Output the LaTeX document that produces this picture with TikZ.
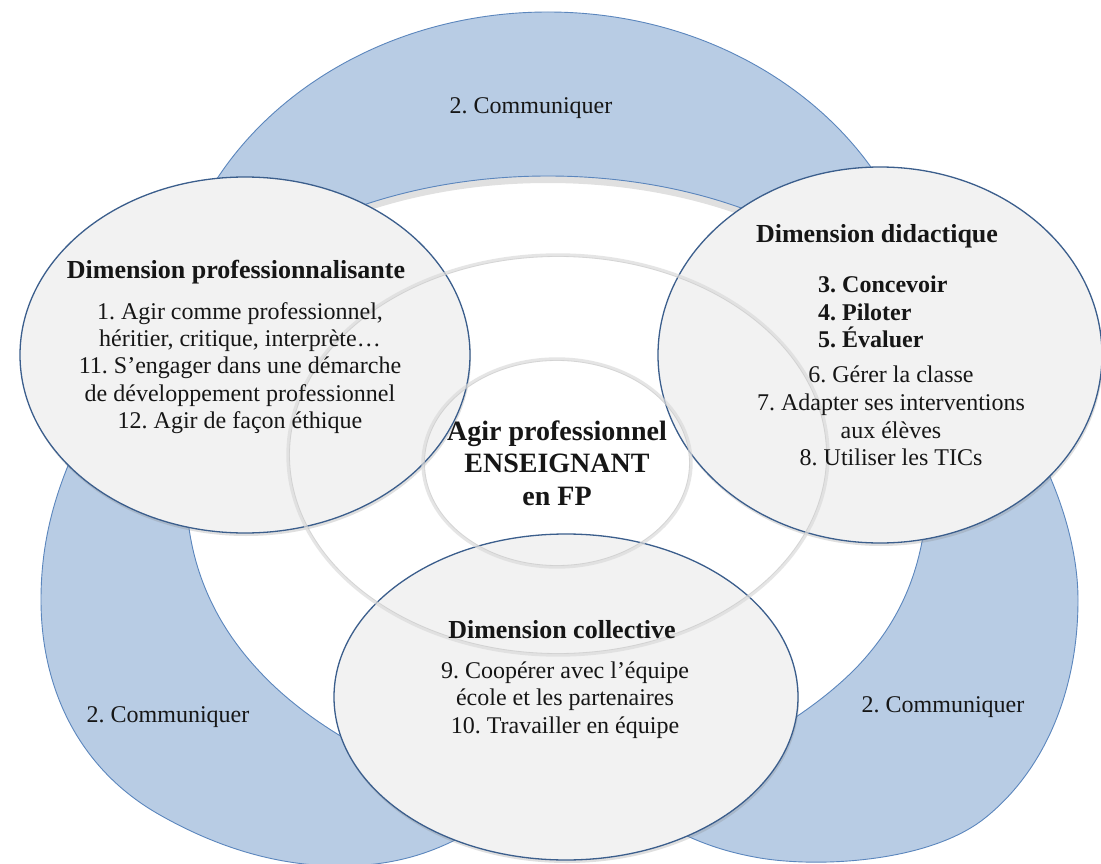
\documentclass[tikz,border=0pt]{standalone}
\usepackage{fontspec}
\setmainfont{Liberation Serif}
\frenchspacing
\usetikzlibrary{shapes.geometric,shadows}
\definecolor{ringblue}{HTML}{B8CCE4}
\definecolor{ringedge}{HTML}{5B86BD}
\definecolor{ellfill}{HTML}{F2F2F2}
\definecolor{elledge}{HTML}{3B5E8C}
\definecolor{txt}{HTML}{161616}
\begin{document}
\begin{tikzpicture}[x=1pt,y=-1pt,
  comm/.style={font=\fontsize{24}{27}\selectfont, text=txt},
  head/.style={font=\fontsize{26}{29}\selectfont\bfseries, text=txt},
  body/.style={font=\fontsize{24}{27.3}\selectfont, text=txt, align=center, inner sep=0pt},
  dimell/.style={ellipse, draw=elledge, line width=1.3pt, fill=ellfill, inner sep=0pt,
    drop shadow={opacity=0.25, shadow xshift=1pt, shadow yshift=-3pt}},
  faint/.style={draw=black!14, line width=3.4pt, opacity=0.7},
  faintcore/.style={draw=black!24, line width=0.8pt, opacity=0.5},
  ringline/.style={draw=ringedge, line width=0.9pt},
  lobe/.style={fill=ringblue, draw=ringedge, line width=0.9pt, line join=round},
]
\useasboundingbox (0,0) rectangle (1101,864);
\fill[white] (0,0) rectangle (1101,864);
% top block arc of the blue ring
\begin{scope}
  \clip (0,0) rectangle (1101,300);
  \fill[ringblue, even odd rule] (548,340) ellipse [x radius=380, y radius=328]
                                 (548,420) ellipse [x radius=390, y radius=244];
  \begin{scope}
    \clip (548,420) ellipse [x radius=390, y radius=244];
    \draw[black, opacity=0.12, line width=8pt, yshift=-3pt] (548,420) ellipse [x radius=390, y radius=244];
  \end{scope}
  \draw[ringline] (548,340) ellipse [x radius=380, y radius=328];
  \draw[ringline] (548,420) ellipse [x radius=390, y radius=244];
\end{scope}
% right lower block arc
\path[lobe] (1000,390) .. controls (1045,450) and (1078,530) .. (1078,600)
  .. controls (1078,690) and (1045,770) .. (985,818)
  .. controls (930,862) and (820,868) .. (760,858)
  .. controls (725,852) and (695,842) .. (660,822)
  -- (700,765) .. controls (760,745) and (820,705) .. (857,667)
  .. controls (890,632) and (915,590) .. (924,530)
  -- (925,470) -- cycle;
% left lower block arc
\path[lobe] (100,400) .. controls (55,480) and (41,540) .. (41,600)
  .. controls (41,690) and (80,770) .. (160,815)
  .. controls (220,849) and (280,866) .. (340,866)
  .. controls (390,866) and (430,855) .. (470,832)
  -- (420,775) .. controls (360,752) and (300,715) .. (260,672)
  .. controls (225,635) and (195,585) .. (188,520)
  -- (188,470) -- cycle;
% three dimension ellipses
\node[dimell, minimum width=450pt, minimum height=356pt] (pro) at (245,355) {};
\node[dimell, minimum width=444pt, minimum height=376pt] (did) at (880,355) {};
\node[dimell, minimum width=464pt, minimum height=326pt] (col) at (566,697) {};
% faint concentric rings
\draw[faint] (558,455) ellipse [x radius=270, y radius=200];
\draw[faintcore] (558,455) ellipse [x radius=268.5, y radius=198.5];
\draw[faint] (557,463) ellipse [x radius=134, y radius=104];
\draw[faintcore] (557,463) ellipse [x radius=132.5, y radius=102.5];
% texts
\node[comm] (c1) at (531,108) {2. Communiquer};
\node[comm] (c2) at (168,717) {2. Communiquer};
\node[comm] (c3) at (943,707) {2. Communiquer};
\node[head] (proh) at (236,272) {Dimension professionnalisante};
\node[body] (prob) at (240,368) {1. Agir comme professionnel,\\héritier, critique, interprète…\\11. S’engager dans une démarche\\de développement professionnel\\12. Agir de façon éthique};
\node[body, font=\fontsize{28}{32.5}\selectfont\bfseries] (ctr) at (557,463) {Agir professionnel\\ENSEIGNANT\\en FP};
\node[head] (didh) at (877,236) {Dimension didactique};
\node[body, align=left, anchor=west, font=\fontsize{24}{27.5}\selectfont\bfseries] (didl) at (818,312) {3. Concevoir\\4. Piloter\\5. Évaluer};
\node[body, font=\fontsize{24}{27.7}\selectfont] (didb) at (891,416) {6. Gérer la classe\\7. Adapter ses interventions\\aux élèves\\8. Utiliser les TICs};
\node[head] (colh) at (562,630) {Dimension collective};
\node[body] (colb) at (565,700) {9. Coopérer avec l’équipe\\école et les partenaires\\10. Travailler en équipe};
\end{tikzpicture}
\end{document}
